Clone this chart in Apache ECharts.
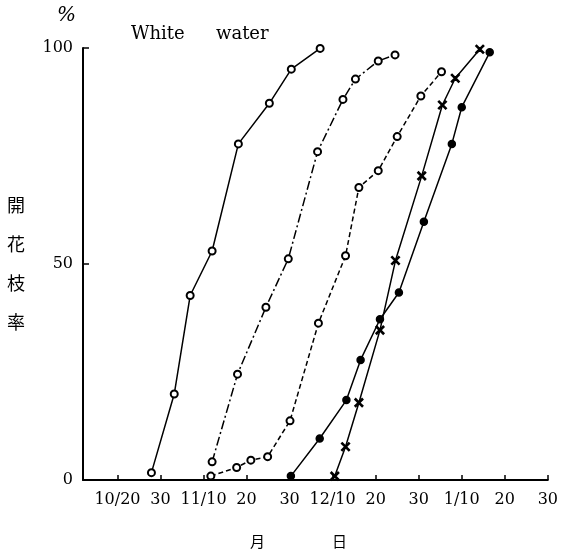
<!DOCTYPE html>
<html>
<head>
<meta charset="utf-8">
<script src="https://cdn.jsdelivr.net/npm/echarts@6/dist/echarts.min.js"></script>
<style>
  html, body { margin: 0; padding: 0; background: #fff; }
  #chart { width: 561px; height: 554px; }
</style>
</head>
<body>
<div id="chart"></div>
<script>
// x is measured in "tick units": 0 = 10/20, 10 = 10/30, 20 = 11/10 ...
const tickLabels = ['10/20', '30', '11/10', '20', '30', '12/10', '20', '30', '1/10', '20', '30']
const tickValues = [0, 10, 20, 30, 40, 50, 60, 70, 80, 90, 100]

// solid line, open circles
const s1Day = [7.9, 13.2, 16.9, 22.0, 28.1, 35.3, 40.4, 47.1]
const s1Pct = [1.7, 19.9, 42.7, 53.0, 77.8, 87.2, 95.1, 99.9]

// dash-dot line, open circles
const s2Day = [22.0, 27.9, 34.5, 39.7, 46.5, 52.4, 55.3, 60.6, 64.5]
const s2Pct = [4.2, 24.5, 40.0, 51.2, 76.0, 88.1, 92.8, 97.0, 98.4]

// dashed line, open circles
const s3Day = [21.7, 27.7, 31.0, 34.9, 40.1, 46.7, 53.0, 56.1, 60.6, 65.0, 70.5, 75.3]
const s3Pct = [0.9, 2.9, 4.6, 5.4, 13.7, 36.3, 51.9, 67.7, 71.6, 79.5, 88.9, 94.5]

// solid line, crosses
const s4Day = [50.5, 53.0, 56.1, 61.0, 64.6, 70.7, 75.5, 78.5, 84.2]
const s4Pct = [0.9, 7.7, 17.9, 34.7, 50.8, 70.4, 86.8, 93.0, 99.7]

// solid line, filled dots
const s5Day = [40.3, 47.0, 53.2, 56.5, 61.0, 65.4, 71.2, 77.7, 80.0, 86.5]
const s5Pct = [0.9, 9.6, 18.5, 27.8, 37.2, 43.4, 59.8, 77.8, 86.3, 99.0]

const pairs = (xs, ys) => xs.map((x, i) => [x, ys[i]])

const INK = '#000'
const SERIF = '"DejaVu Serif", "Liberation Serif", serif'
const CJK = '"Noto Sans CJK JP", sans-serif'
const CROSS = 'path://M0,1L1,0L5,4L9,0L10,1L6,5L10,9L9,10L5,6L1,10L0,9L4,5Z'

function line(data, symbol, dash, size) {
  return {
    type: 'line',
    data,
    symbol,
    symbolSize: size,
    showSymbol: true,
    lineStyle: { color: INK, width: 1.5, type: dash },
    itemStyle: { color: INK, borderColor: INK, borderWidth: 1.5 },
    emphasis: { disabled: true },
  }
}

const chart = echarts.init(document.getElementById('chart'))
chart.setOption({
  animation: false,
  backgroundColor: '#fff',
  grid: { left: 83, right: 6, top: 48, bottom: 74 },
  xAxis: {
    type: 'value',
    min: -8,
    max: 100,
    axisLine: { onZero: false, lineStyle: { color: INK, width: 2 } },
    axisTick: { inside: true, length: 5, lineStyle: { color: INK, width: 1.5 }, customValues: tickValues },
    axisLabel: {
      customValues: tickValues,
      margin: 12,
      color: INK,
      fontFamily: SERIF,
      fontSize: 16,
      formatter: v => tickLabels[tickValues.indexOf(Math.round(v))] ?? '',
    },
    splitLine: { show: false },
  },
  yAxis: {
    type: 'value',
    min: 0,
    max: 100,
    interval: 50,
    axisLine: { show: true, onZero: false, lineStyle: { color: INK, width: 2 } },
    axisTick: { show: true, inside: true, length: 6, lineStyle: { color: INK, width: 1.5 } },
    axisLabel: { margin: 10, color: INK, fontFamily: SERIF, fontSize: 16 },
    splitLine: { show: false },
  },
  graphic: [
    { type: 'text', left: 57, top: 6, style: { text: '%', fontFamily: SERIF, fontStyle: 'italic', fontSize: 20, fill: INK } },
    { type: 'text', left: 131, top: 25, style: { text: 'White', fontFamily: SERIF, fontSize: 18, fill: INK } },
    { type: 'text', left: 216, top: 25, style: { text: 'water', fontFamily: SERIF, fontSize: 18, fill: INK } },
    {
      type: 'text', left: 7, top: 186,
      style: { text: '開\n花\n枝\n率', fontFamily: CJK, fontSize: 18, lineHeight: 39, fill: INK },
    },
    { type: 'text', left: 250, top: 534, style: { text: '月', fontFamily: CJK, fontSize: 15, fill: INK } },
    { type: 'text', left: 332, top: 534, style: { text: '日', fontFamily: CJK, fontSize: 15, fill: INK } },
  ],
  series: [
    line(pairs(s1Day, s1Pct), 'emptyCircle', 'solid', 7),
    line(pairs(s2Day, s2Pct), 'emptyCircle', [9, 3, 2, 3], 7),
    line(pairs(s3Day, s3Pct), 'emptyCircle', [5, 3], 7),
    line(pairs(s4Day, s4Pct), CROSS, 'solid', 8),
    line(pairs(s5Day, s5Pct), 'circle', 'solid', 7),
  ],
})
</script>
</body>
</html>
